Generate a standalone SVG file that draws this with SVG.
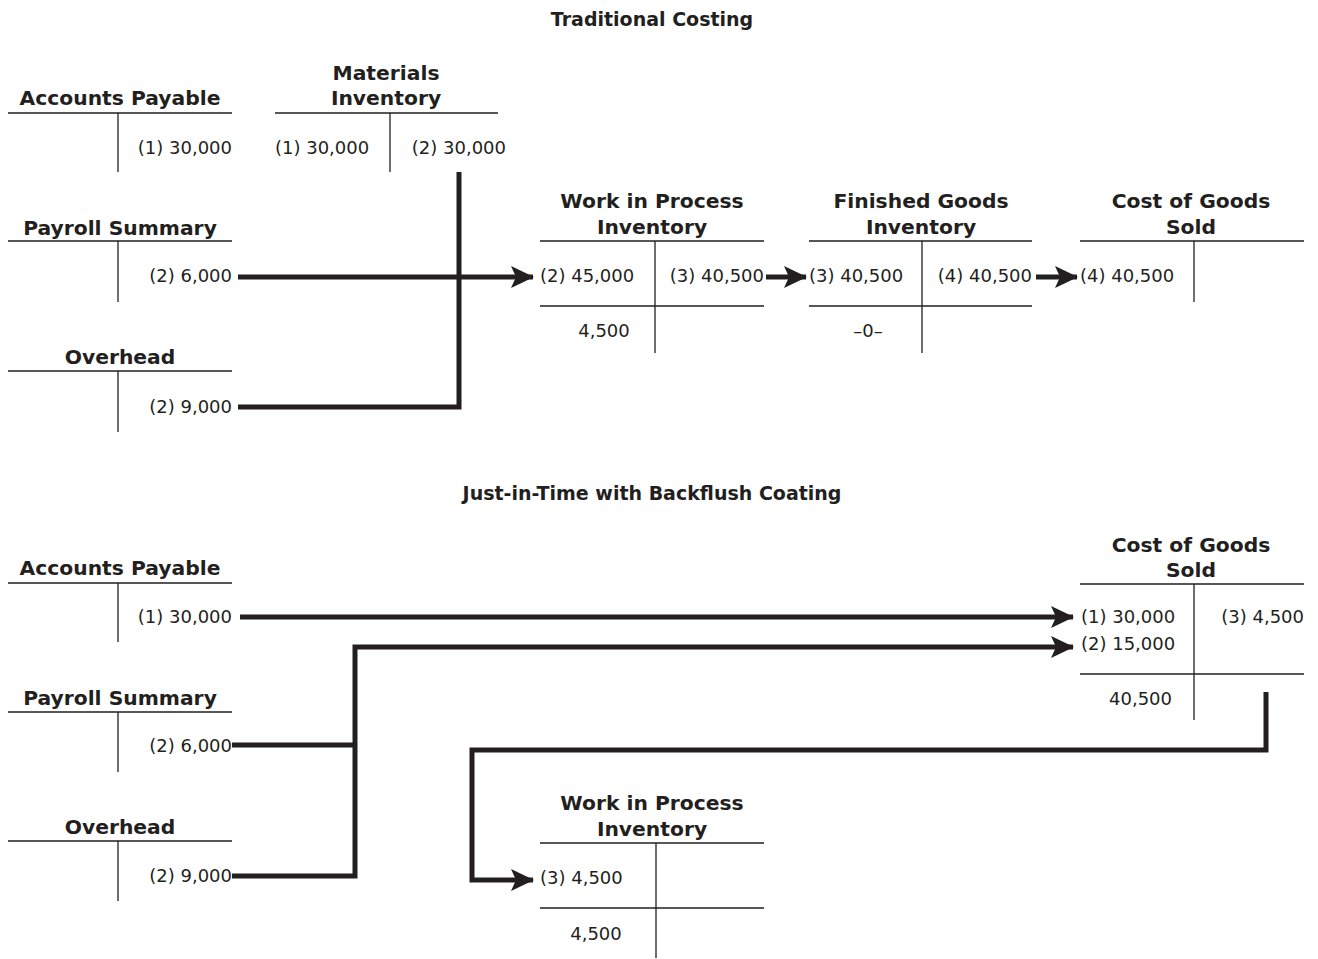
<svg xmlns="http://www.w3.org/2000/svg" width="1318" height="959" viewBox="0 0 1318 959">
<style>
text{font-family:"DejaVu Sans",Verdana,sans-serif;fill:#231f20}
.title{font-size:19px;font-weight:bold;text-anchor:middle}
.hd{font-size:20.3px;font-weight:bold;text-anchor:middle}
.v{font-size:18px}
.r{text-anchor:end}
.m{text-anchor:middle}
.t{stroke:#231f20;stroke-width:1.3;fill:none}
.c{stroke:#231f20;stroke-width:5;fill:none}
</style>
<defs>
<marker id="ah" markerUnits="userSpaceOnUse" markerWidth="24" markerHeight="22" refX="22" refY="11" orient="auto">
<path d="M0,0 L23,11 L0,22 L5,11 Z" fill="#231f20"/>
</marker>
</defs>
<rect width="1318" height="959" fill="#fff"/>
<text class="title" x="652" y="26">Traditional Costing</text>
<text class="title" x="652" y="500">Just-in-Time with Backflush Coating</text>

<g id="connectors">
<path class="c" d="M459,172 V407 H238"/>
<path class="c" d="M238,277 H533" marker-end="url(#ah)"/>
<path class="c" d="M766,277 H806" marker-end="url(#ah)"/>
<path class="c" d="M1036,277 H1077" marker-end="url(#ah)"/>
<path class="c" d="M240,617 H1073" marker-end="url(#ah)"/>
<path class="c" d="M232,745 H355"/>
<path class="c" d="M232,876 H355 V647 H1073" marker-end="url(#ah)"/>
<path class="c" d="M1266,692 V750 H472 V880 H533" marker-end="url(#ah)"/>
</g>

<g id="ap1">
<text class="hd" x="120" y="105">Accounts Payable</text>
<path class="t" d="M8,113 H232 M118,113 V172"/>
<text class="v r" x="232" y="154">(1) 30,000</text>
</g>
<g id="mi">
<text class="hd" x="386" y="80">Materials</text>
<text class="hd" x="386" y="105">Inventory</text>
<path class="t" d="M275,113 H498 M390,113 V172"/>
<text class="v" x="275" y="154">(1) 30,000</text>
<text class="v r" x="506" y="154">(2) 30,000</text>
</g>
<g id="ps1">
<text class="hd" x="120" y="235">Payroll Summary</text>
<path class="t" d="M8,241 H232 M118,241 V302"/>
<text class="v r" x="232" y="282">(2) 6,000</text>
</g>
<g id="oh1">
<text class="hd" x="120" y="364">Overhead</text>
<path class="t" d="M8,371 H232 M118,371 V432"/>
<text class="v r" x="232" y="413">(2) 9,000</text>
</g>
<g id="wip1">
<text class="hd" x="652" y="208">Work in Process</text>
<text class="hd" x="652" y="234">Inventory</text>
<path class="t" d="M540,241 H764 M540,306 H764 M655,241 V353"/>
<text class="v" x="540" y="282">(2) 45,000</text>
<text class="v r" x="764" y="282">(3) 40,500</text>
<text class="v m" x="604" y="337">4,500</text>
</g>
<g id="fg1">
<text class="hd" x="921" y="208">Finished Goods</text>
<text class="hd" x="921" y="234">Inventory</text>
<path class="t" d="M809,241 H1032 M809,306 H1032 M922,241 V353"/>
<text class="v" x="809" y="282">(3) 40,500</text>
<text class="v r" x="1032" y="282">(4) 40,500</text>
<text class="v m" x="868" y="337">–0–</text>
</g>
<g id="cogs1">
<text class="hd" x="1191" y="208">Cost of Goods</text>
<text class="hd" x="1191" y="234">Sold</text>
<path class="t" d="M1080,241 H1304 M1194,241 V302"/>
<text class="v" x="1080" y="282">(4) 40,500</text>
</g>

<g id="ap2">
<text class="hd" x="120" y="575">Accounts Payable</text>
<path class="t" d="M8,583 H232 M118,583 V642"/>
<text class="v r" x="232" y="623">(1) 30,000</text>
</g>
<g id="ps2">
<text class="hd" x="120" y="705">Payroll Summary</text>
<path class="t" d="M8,712 H232 M118,712 V772"/>
<text class="v r" x="232" y="752">(2) 6,000</text>
</g>
<g id="oh2">
<text class="hd" x="120" y="834">Overhead</text>
<path class="t" d="M8,841 H232 M118,841 V901"/>
<text class="v r" x="232" y="882">(2) 9,000</text>
</g>
<g id="cogs2">
<text class="hd" x="1191" y="552">Cost of Goods</text>
<text class="hd" x="1191" y="577">Sold</text>
<path class="t" d="M1080,584 H1304 M1080,674 H1304 M1194,584 V720"/>
<text class="v" x="1081" y="623">(1) 30,000</text>
<text class="v" x="1081" y="650">(2) 15,000</text>
<text class="v r" x="1304" y="623">(3) 4,500</text>
<text class="v r" x="1172" y="705">40,500</text>
</g>
<g id="wip2">
<text class="hd" x="652" y="810">Work in Process</text>
<text class="hd" x="652" y="836">Inventory</text>
<path class="t" d="M540,843 H764 M540,908 H764 M656,843 V958"/>
<text class="v" x="540" y="884">(3) 4,500</text>
<text class="v m" x="596" y="940">4,500</text>
</g>
</svg>
